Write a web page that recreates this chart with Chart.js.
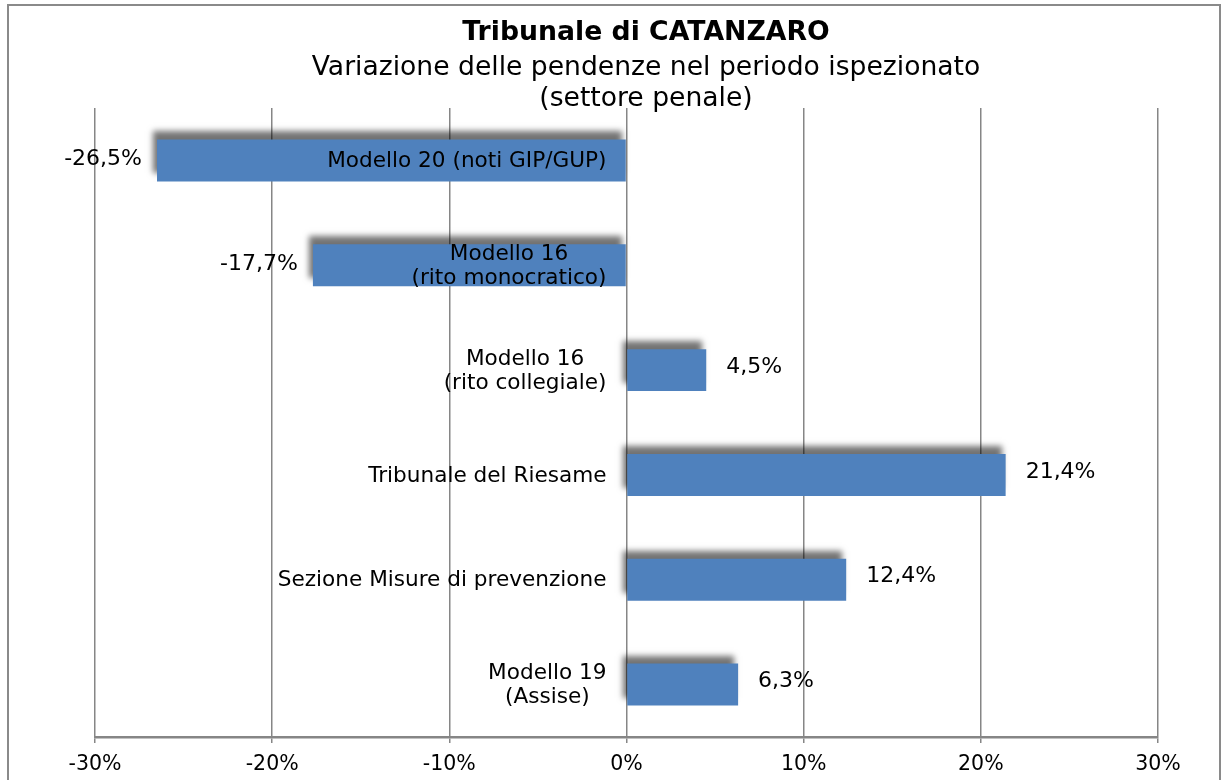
<!DOCTYPE html>
<html>
<head>
<meta charset="utf-8">
<script src="https://cdn.jsdelivr.net/npm/chart.js@4.4.1/dist/chart.umd.min.js"></script>
<style>
  html, body { margin: 0; padding: 0; background: #ffffff; }
  #wrap { width: 1222px; height: 780px; position: relative; }
</style>
</head>
<body>
<div id="wrap"><canvas id="c" width="1222" height="780"></canvas></div>
<script>
const titleText = 'Tribunale di CATANZARO';
const subtitleLines = ['Variazione delle pendenze nel periodo ispezionato', '(settore penale)'];
const categories = [
  ['Modello 20 (noti GIP/GUP)'],
  ['Modello 16', '(rito monocratico)'],
  ['Modello 16', '(rito collegiale)'],
  ['Tribunale del Riesame'],
  ['Sezione Misure di prevenzione'],
  ['Modello 19', '(Assise)']
];
const values = [-26.5, -17.7, 4.5, 21.4, 12.4, 6.3];
const axisMin = -30;
const axisMax = 30;
const axisStep = 10;

const FONT = "'DejaVu Sans', Verdana, sans-serif";

function fmtPct(v) {
  return v.toFixed(1).replace('.', ',') + '%';
}

const framePlugin = {
  id: 'frame',
  beforeDraw(chart) {
    const ctx = chart.ctx;
    ctx.save();
    ctx.fillStyle = '#ffffff';
    ctx.fillRect(0, 0, chart.width, chart.height);
    ctx.strokeStyle = '#8a8a8a';
    ctx.lineWidth = 2;
    ctx.strokeRect(8, 5, 1212, 800);
    ctx.restore();
  }
};

// shift the title block so that it is centred like the original
const titleShiftPlugin = {
  id: 'titleShift',
  afterLayout(chart) {
    chart.boxes.forEach(b => {
      if (b.options && b.options.text !== undefined && b.position === 'top') {
        b.left += 19.5;
        b.right += 19.5;
      }
    });
  }
};

const shadowPlugin = {
  id: 'barShadow',
  beforeDatasetsDraw(chart) {
    const ctx = chart.ctx;
    ctx.save();
    ctx.shadowColor = 'rgba(0,0,0,0.55)';
    ctx.shadowBlur = 6;
    ctx.shadowOffsetX = -4;
    ctx.shadowOffsetY = -8;
  },
  afterDatasetsDraw(chart) {
    chart.ctx.restore();
  }
};

const labelsPlugin = {
  id: 'barLabels',
  afterDatasetsDraw(chart) {
    const ctx = chart.ctx;
    const meta = chart.getDatasetMeta(0);
    const xScale = chart.scales.x;
    const zeroX = xScale.getPixelForValue(0);
    ctx.save();
    ctx.shadowColor = 'transparent';
    ctx.fillStyle = '#000000';
    ctx.textBaseline = 'middle';
    const lineH = 24;
    meta.data.forEach((bar, i) => {
      // category label: block right-aligned next to the zero axis, lines centred
      ctx.font = '21.6px ' + FONT;
      const lines = chart.data.labels[i];
      const widths = lines.map(l => ctx.measureText(l).width);
      const maxW = Math.max.apply(null, widths);
      const cx = zeroX - 20 - maxW / 2;
      const startY = bar.y + 1 - (lines.length - 1) * lineH / 2;
      ctx.textAlign = 'center';
      lines.forEach((l, k) => ctx.fillText(l, cx, startY + k * lineH));
      // value label
      ctx.font = '22px ' + FONT;
      const v = chart.data.datasets[0].data[i];
      if (v >= 0) {
        ctx.textAlign = 'left';
        ctx.fillText(fmtPct(v), bar.x + 20, bar.y - 3);
      } else {
        ctx.textAlign = 'right';
        ctx.fillText(fmtPct(v), bar.x - 15, bar.y - 1);
      }
    });
    ctx.restore();
  }
};

new Chart(document.getElementById('c'), {
  type: 'bar',
  data: {
    labels: categories,
    datasets: [{
      data: values,
      backgroundColor: '#4F81BD',
      borderWidth: 0,
      barPercentage: 0.4,
      categoryPercentage: 1.0
    }]
  },
  options: {
    indexAxis: 'y',
    responsive: false,
    animation: false,
    layout: { padding: { left: 95, right: 64, top: 0, bottom: 1 } },
    plugins: {
      legend: { display: false },
      tooltip: { enabled: false },
      title: {
        display: true,
        text: titleText,
        color: '#000000',
        font: { family: FONT, size: 26.7, weight: 'bold', lineHeight: 1.35 },
        padding: { top: 15, bottom: 0 }
      },
      subtitle: {
        display: true,
        text: subtitleLines,
        color: '#000000',
        font: { family: FONT, size: 26.6, weight: 'normal', lineHeight: 1.165 },
        padding: { top: 1.5, bottom: -6.5 }
      }
    },
    scales: {
      x: {
        type: 'linear',
        min: axisMin,
        max: axisMax,
        afterFit(scale) { scale.height = 42; },
        ticks: {
          stepSize: axisStep,
          color: '#000000',
          padding: 9,
          font: { family: FONT, size: 20.5 },
          callback: v => v + '%'
        },
        grid: {
          color: '#868686',
          lineWidth: 1.5,
          drawTicks: true,
          tickLength: 6,
          tickColor: '#868686'
        },
        border: { display: true, color: '#868686', width: 2.5 }
      },
      y: {
        display: false,
        grid: { display: false }
      }
    }
  },
  plugins: [framePlugin, titleShiftPlugin, shadowPlugin, labelsPlugin]
});
</script>
</body>
</html>
